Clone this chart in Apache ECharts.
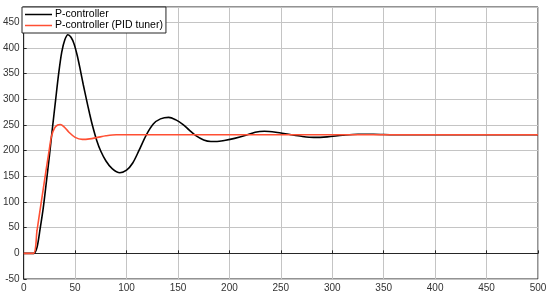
<!DOCTYPE html>
<html>
<head>
<meta charset="utf-8">
<script src="https://cdn.jsdelivr.net/npm/echarts@6/dist/echarts.min.js"></script>
<style>html,body{margin:0;padding:0;background:#fff}#c{width:550px;height:298px}</style>
</head>
<body>
<div id="c"></div>
<script>
const seriesNames = ['P-controller', 'P-controller (PID tuner)'];
const xTicks = [0, 50, 100, 150, 200, 250, 300, 350, 400, 450, 500];
const yTicks = [-50, 0, 50, 100, 150, 200, 250, 300, 350, 400, 450];
const pTime = [0, 10, 13, 16, 19, 22, 25, 28, 31, 34, 37, 40, 43, 46, 49, 52, 55, 58, 61, 64, 67, 71, 75, 80, 86, 93.5, 100, 106, 112, 119, 126, 133, 141, 148, 155, 161, 167, 175, 182, 188, 195, 205, 216, 225, 234, 245, 260, 270, 282, 295, 310, 325, 340, 360, 400, 500];
const pValue = [0, 0, 12, 48, 88, 138, 190, 245, 298, 350, 392, 416, 426, 421, 408, 386, 358, 328, 300, 273, 248, 220, 199, 180, 165, 157, 162, 176, 200, 230, 252, 262, 265, 260, 251, 240, 230, 221, 218, 218, 220, 224, 230, 236, 238, 236, 231, 228, 226, 227, 230, 232, 232, 231, 231, 231];
const pidTime = [0, 9.5, 13, 16, 19, 22, 24.8, 27, 30, 33, 35.5, 39, 44, 50, 57, 64, 72, 80, 90, 100, 200, 300, 400, 500];
const pidValue = [0, 0, 45, 85, 125, 165, 201, 228, 244, 250, 251, 247, 236, 226, 222, 223, 226, 229, 231, 231, 231, 231, 231, 231];

const zip = (a, b) => a.map((t, i) => [t, b[i]]);
const axisFont = { fontFamily: 'Liberation Sans', fontSize: 10, color: '#333' };

const chart = echarts.init(document.getElementById('c'), null, { renderer: 'canvas' });
chart.setOption({
  animation: false,
  backgroundColor: '#ffffff',
  grid: { left: 21, right: 12, top: 7, bottom: 19, show: true, borderColor: '#262626', borderWidth: 1, backgroundColor: 'transparent' },
  legend: {
    orient: 'vertical', left: 22, top: 7,
    data: seriesNames,
    icon: 'rect',
    itemWidth: 27, itemHeight: 1.5, itemGap: 0,
    padding: [2, 3, 2, 3],
    backgroundColor: '#ffffff', borderColor: '#262626', borderWidth: 1, borderRadius: 0,
    textStyle: { fontFamily: 'Liberation Sans', fontSize: 10.5, lineHeight: 10, color: '#000', padding: [0, 0, 0, -2] }
  },
  xAxis: {
    type: 'value', min: xTicks[0], max: xTicks[xTicks.length - 1], interval: 50,
    axisLine: { show: true, lineStyle: { color: '#262626' } },
    axisTick: { show: true, inside: true, length: 3, lineStyle: { color: '#262626' } },
    axisLabel: Object.assign({ margin: 4 }, axisFont),
    splitLine: { show: true, lineStyle: { color: '#c4c4c4', width: 1 } }
  },
  yAxis: {
    type: 'value', min: yTicks[0], max: 480, interval: 50,
    axisLine: { show: true, lineStyle: { color: '#262626' } },
    axisTick: { show: true, inside: true, length: 3, lineStyle: { color: '#262626' } },
    axisLabel: Object.assign({ margin: 4, showMaxLabel: false, formatter: v => (yTicks.includes(v) ? String(v) : '') }, axisFont),
    splitLine: { show: true, lineStyle: { color: '#c4c4c4', width: 1 } }
  },
  series: [
    { name: seriesNames[0], type: 'line', data: zip(pTime, pValue), symbol: 'none', smooth: 0.3, lineStyle: { color: '#000000', width: 1.6 }, itemStyle: { color: '#000000' }, z: 2 },
    { name: seriesNames[1], type: 'line', data: zip(pidTime, pidValue), symbol: 'none', smooth: 0.3, lineStyle: { color: '#ff4f33', width: 1.6 }, itemStyle: { color: '#ff4f33' }, z: 3 }
  ]
});
</script>
</body>
</html>
